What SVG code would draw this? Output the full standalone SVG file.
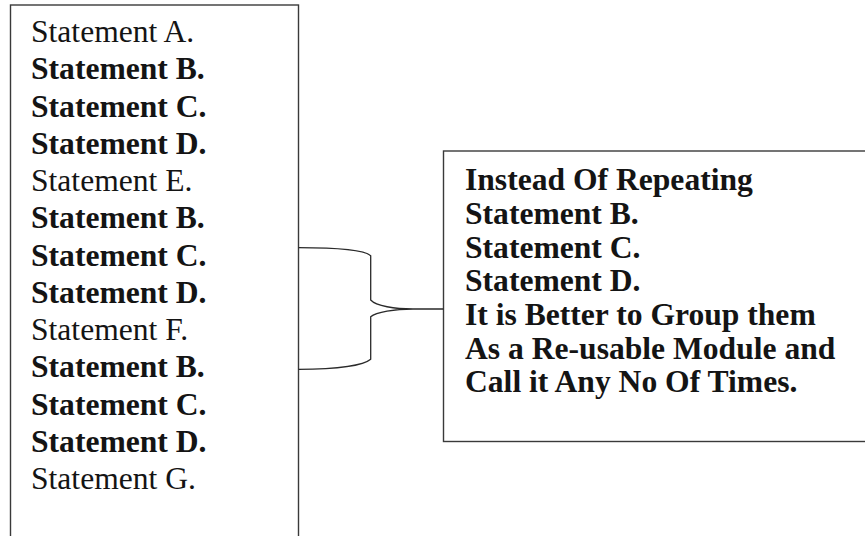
<svg xmlns="http://www.w3.org/2000/svg" width="865" height="536" viewBox="0 0 865 536">
  <style>
    .box { fill: #ffffff; stroke: #3a3a3a; stroke-width: 1.4; }
    .brace { fill: none; stroke: #2a2a2a; stroke-width: 1.3; }
    text { font-family: "Liberation Serif", "Times New Roman", serif; font-size: 31.6px; fill: #141414; }
    .b { font-weight: bold; }
  </style>
  <rect width="865" height="536" fill="#ffffff"/>

  <!-- program listing with repeated statements -->
  <g id="statements">
    <rect class="box" x="10.5" y="5" width="288" height="545"/>
    <text x="31" y="42">Statement A.</text>
    <text class="b" x="31" y="79.3">Statement B.</text>
    <text class="b" x="31" y="116.5">Statement C.</text>
    <text class="b" x="31" y="153.8">Statement D.</text>
    <text x="31" y="191">Statement E.</text>
    <text class="b" x="31" y="228.3">Statement B.</text>
    <text class="b" x="31" y="265.5">Statement C.</text>
    <text class="b" x="31" y="302.8">Statement D.</text>
    <text x="31" y="340">Statement F.</text>
    <text class="b" x="31" y="377.3">Statement B.</text>
    <text class="b" x="31" y="414.5">Statement C.</text>
    <text class="b" x="31" y="451.8">Statement D.</text>
    <text x="31" y="489">Statement G.</text>
  </g>

  <!-- explanatory note -->
  <g id="module-note">
    <rect class="box" x="443.5" y="151" width="440" height="290.5"/>
    <text class="b" x="465" y="190">Instead Of Repeating</text>
    <text class="b" x="465" y="224">Statement B.</text>
    <text class="b" x="465" y="257.5">Statement C.</text>
    <text class="b" x="465" y="291">Statement D.</text>
    <text class="b" x="465" y="325">It is Better to Group them</text>
    <text class="b" x="465" y="358.5">As a Re-usable Module and</text>
    <text class="b" x="465" y="392">Call it Any No Of Times.</text>
  </g>

  <!-- curly brace joining the listing to the note -->
  <g id="connectors">
    <path class="brace" d="M298.5,247.7 C340,247.7 364,250 370.7,255.7 L370.7,300 C376,306 395,309 413,309 L443.5,309 M413,309 C395,309 376,312 370.7,316.7 L370.7,359.3 C364,365 340,369.3 298.5,369.3"/>
  </g>
</svg>
